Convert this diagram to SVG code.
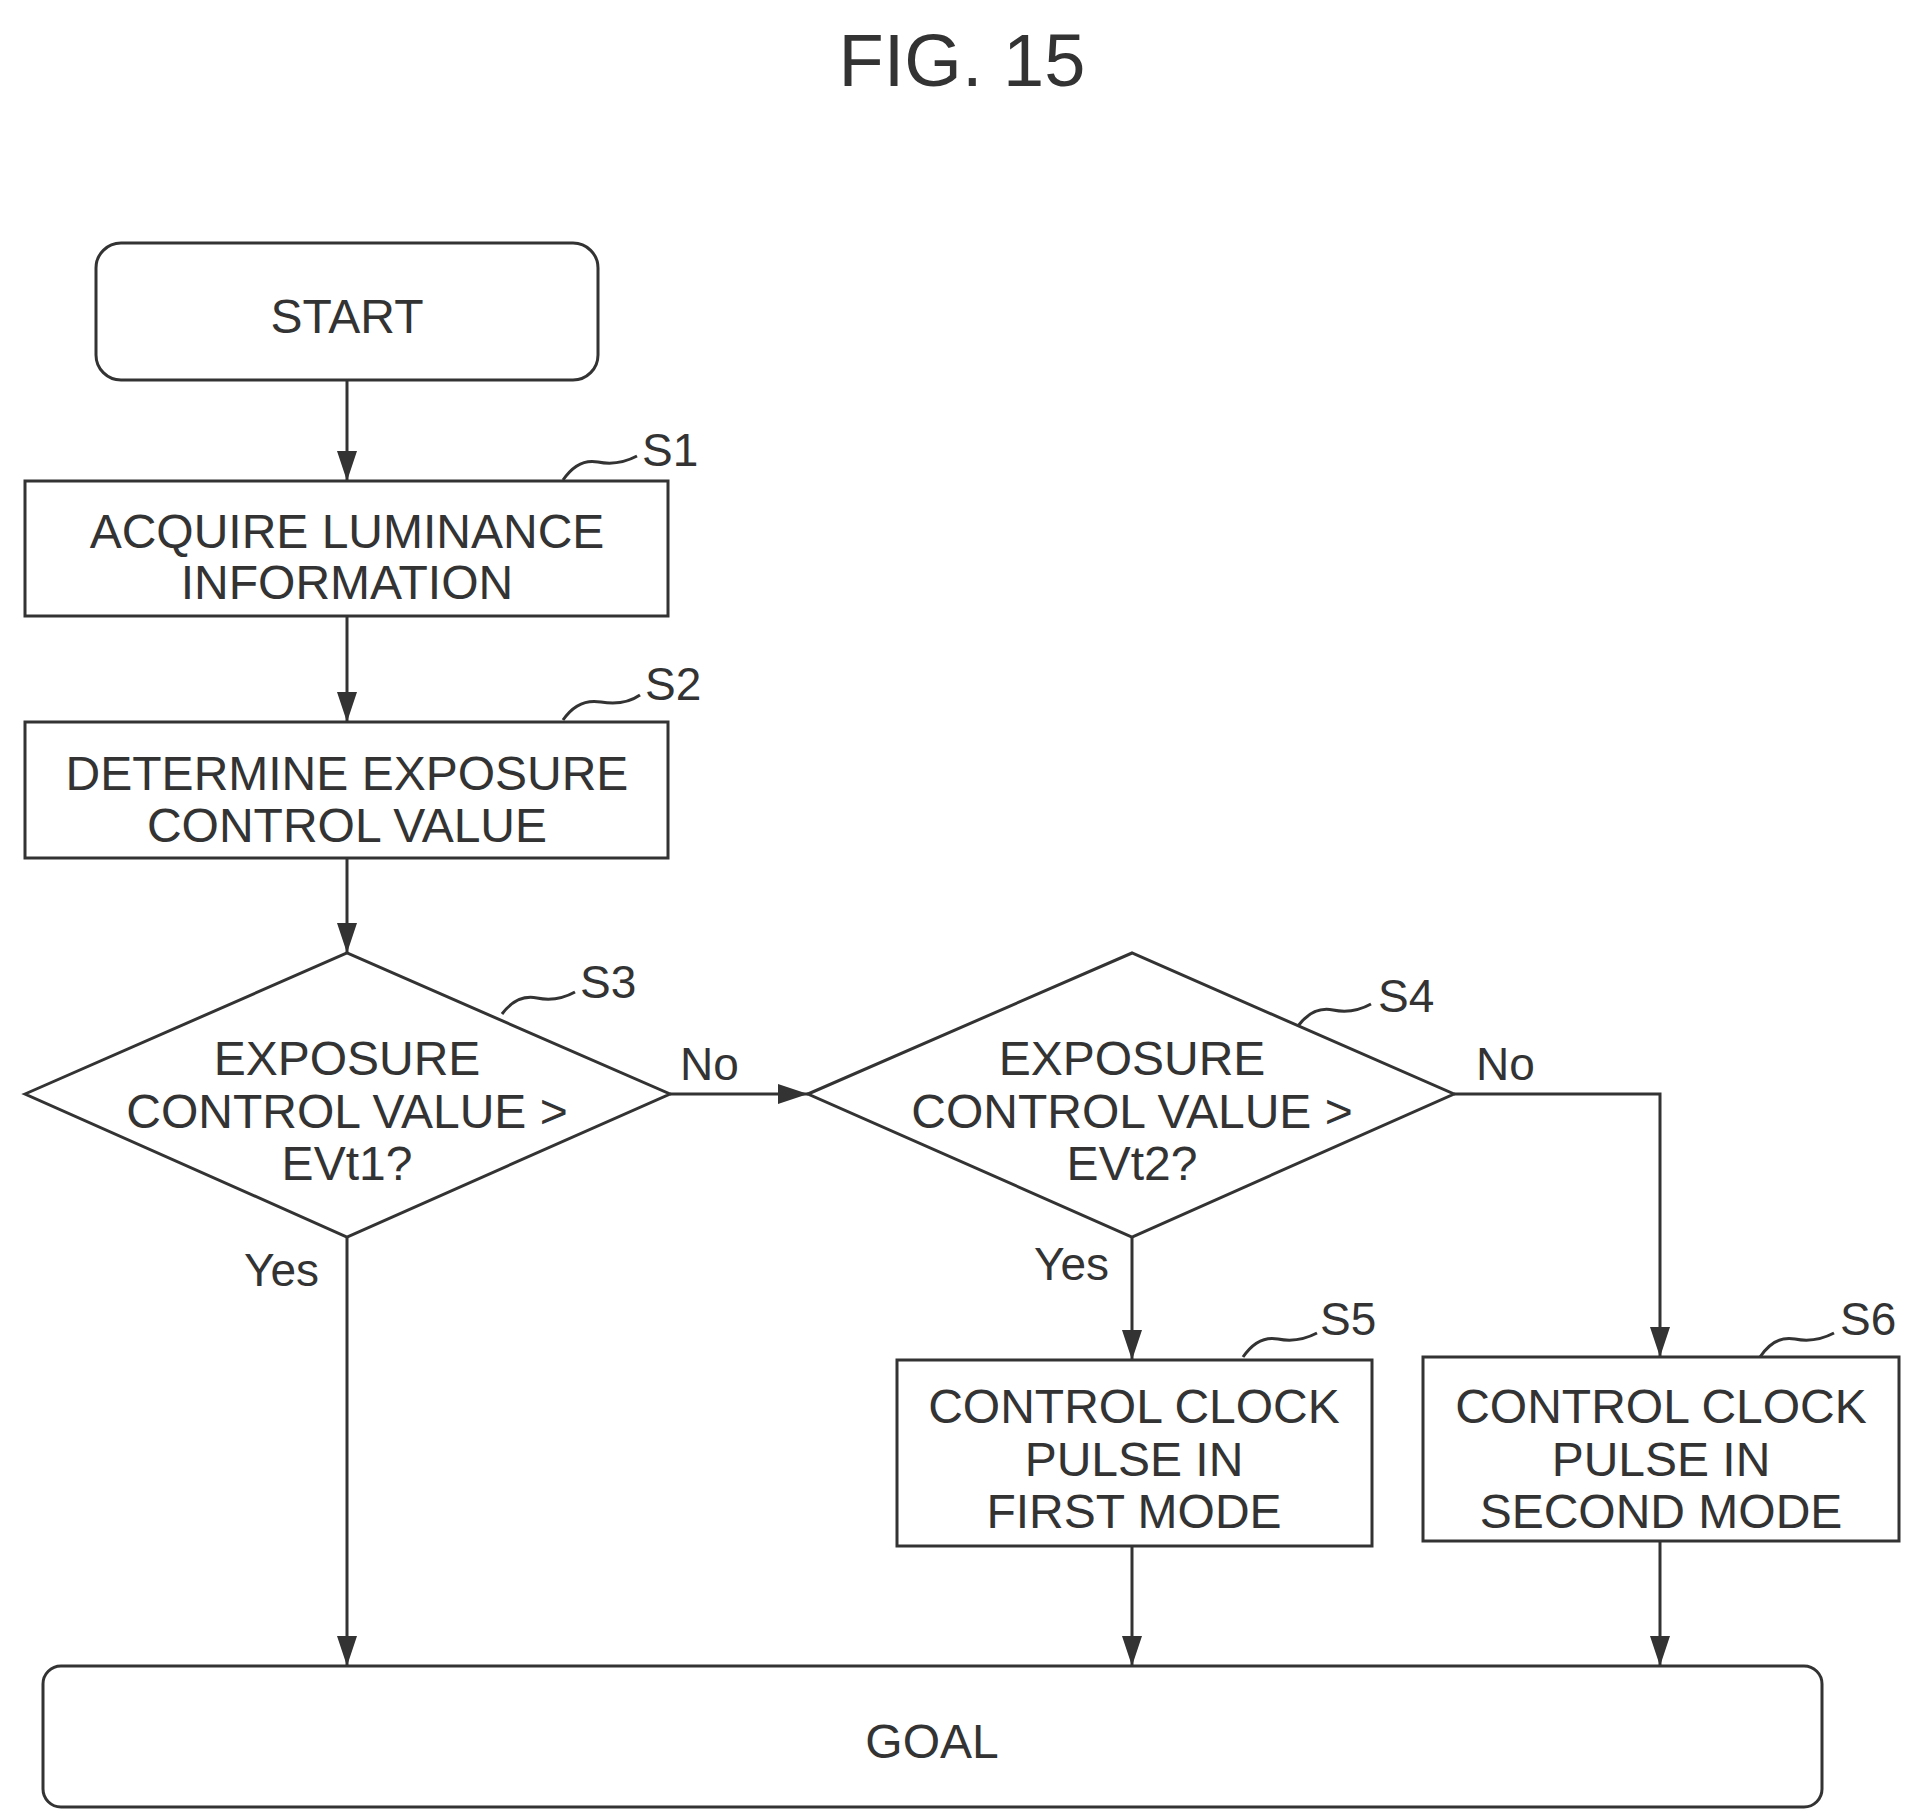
<svg xmlns="http://www.w3.org/2000/svg" width="1911" height="1820" viewBox="0 0 1911 1820">
<style>
.b{fill:#fff;stroke:#333;stroke-width:3}
.t{font-family:"Liberation Sans",Arial,sans-serif;font-size:48px;fill:#333;text-anchor:middle}
.l{font-family:"Liberation Sans",Arial,sans-serif;font-size:46px;fill:#333}
.c{fill:none;stroke:#333;stroke-width:3}
</style>
<defs><marker id="a" markerWidth="12" markerHeight="12" refX="11" refY="6" orient="auto" markerUnits="userSpaceOnUse" viewBox="0 0 12 12"><path d="M0,0 L12,6 L0,12 Z" fill="#333"/></marker>
<marker id="A" markerWidth="30" markerHeight="20" refX="30" refY="10" orient="auto" markerUnits="userSpaceOnUse"><path d="M0,0 L30,10 L0,20 Z" fill="#333"/></marker></defs>
<text x="962" y="86" font-family="Liberation Sans,Arial,sans-serif" font-size="74" fill="#333" text-anchor="middle">FIG. 15</text>
<g id="connectors">
<path class="c" d="M347,380V481" marker-end="url(#A)"/>
<path class="c" d="M347,616V722" marker-end="url(#A)"/>
<path class="c" d="M347,858V953" marker-end="url(#A)"/>
<path class="c" d="M670,1094H808" marker-end="url(#A)"/>
<path class="c" d="M1454,1094H1660V1357" marker-end="url(#A)"/>
<path class="c" d="M1132,1237V1360" marker-end="url(#A)"/>
<path class="c" d="M347,1237V1666" marker-end="url(#A)"/>
<path class="c" d="M1132,1546V1666" marker-end="url(#A)"/>
<path class="c" d="M1660,1541V1666" marker-end="url(#A)"/>
<text class="l" x="680" y="1080">No</text>
<text class="l" x="1476" y="1080">No</text>
<text class="l" x="244" y="1286">Yes</text>
<text class="l" x="1034" y="1280">Yes</text>
</g>
<g id="start"><rect class="b" x="96" y="243" width="502" height="137" rx="25"/><text class="t" x="347" y="333">START</text></g>
<g id="s1"><rect class="b" x="25" y="481" width="643" height="135"/><text class="t" x="347" y="548">ACQUIRE LUMINANCE</text><text class="t" x="347" y="599">INFORMATION</text>
<path class="c" d="M563,480 q15,-22 35,-18 t39,-6"/><text class="l" x="642" y="466">S1</text></g>
<g id="s2"><rect class="b" x="25" y="722" width="643" height="136"/><text class="t" x="347" y="790">DETERMINE EXPOSURE</text><text class="t" x="347" y="842">CONTROL VALUE</text>
<path class="c" d="M563,720 q15,-22 38,-18 t39,-7"/><text class="l" x="645" y="700">S2</text></g>
<g id="s3"><path class="b" d="M25,1094 L347,953 L670,1094 L347,1237 Z"/><text class="t" x="347" y="1075">EXPOSURE</text><text class="t" x="347" y="1128">CONTROL VALUE &gt;</text><text class="t" x="347" y="1180">EVt1?</text>
<path class="c" d="M502,1014 q15,-20 35,-16 t38,-6"/><text class="l" x="580" y="998">S3</text></g>
<g id="s4"><path class="b" d="M808,1094 L1132,953 L1454,1094 L1132,1237 Z"/><text class="t" x="1132" y="1075">EXPOSURE</text><text class="t" x="1132" y="1128">CONTROL VALUE &gt;</text><text class="t" x="1132" y="1180">EVt2?</text>
<path class="c" d="M1298,1026 q15,-20 35,-16 t38,-6"/><text class="l" x="1378" y="1012">S4</text></g>
<g id="s5"><rect class="b" x="897" y="1360" width="475" height="186"/><text class="t" x="1134" y="1423">CONTROL CLOCK</text><text class="t" x="1134" y="1476">PULSE IN</text><text class="t" x="1134" y="1528">FIRST MODE</text>
<path class="c" d="M1243,1357 q15,-22 35,-18 t39,-6"/><text class="l" x="1320" y="1335">S5</text></g>
<g id="s6"><rect class="b" x="1423" y="1357" width="476" height="184"/><text class="t" x="1661" y="1423">CONTROL CLOCK</text><text class="t" x="1661" y="1476">PULSE IN</text><text class="t" x="1661" y="1528">SECOND MODE</text>
<path class="c" d="M1760,1357 q15,-22 35,-18 t39,-6"/><text class="l" x="1840" y="1335">S6</text></g>
<g id="goal"><rect class="b" x="43" y="1666" width="1779" height="141" rx="18"/><text class="t" x="932" y="1758">GOAL</text></g>
</svg>
